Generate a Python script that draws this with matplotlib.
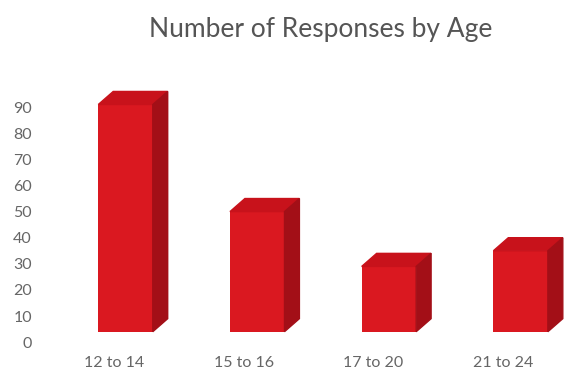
import numpy as np
import matplotlib
matplotlib.use('Agg')
import matplotlib.pyplot as plt
from matplotlib.patches import Polygon

plt.rcParams['font.family'] = ['Lato', 'DejaVu Sans']

# data
ages = ['12 to 14', '15 to 16', '17 to 20', '21 to 24']
responses = [91, 50, 29, 35]
yticks = np.arange(0, 100, 10)

# look of the fake 3d columns
floor = 4        # front face starts a little above the 0 label
shift = 0.09     # columns sit a bit right of their labels
spread = 1.015   # and a touch wider apart (perspective)
width = 0.42
dx, dy = 0.115, 5
front_col = '#da1820'
top_col = '#c8121b'
side_col = '#a30f17'

fig = plt.figure(figsize=(5.68, 3.73), dpi=100)
ax = fig.add_axes([36/568, 23/373, 1 - 36/568, (350 - 81)/373])

x = np.arange(len(ages))
for xi, v in zip(x * spread + shift, responses):
    l, r = xi - width/2, xi + width/2
    ax.bar(xi, v - floor, width, bottom=floor, color=front_col, zorder=3)
    ax.add_patch(Polygon([(l, v), (r, v), (r + dx, v + dy), (l + dx, v + dy)],
                         closed=True, color=top_col, zorder=3))
    ax.add_patch(Polygon([(r, floor), (r + dx, floor + dy), (r + dx, v + dy), (r, v)],
                         closed=True, color=side_col, zorder=3))

ax.set_xlim(-0.6, 3.5)
ax.set_ylim(-3, 100)
ax.set_xticks(x)
ax.set_xticklabels(ages)
ax.set_yticks(yticks)
for s in ax.spines.values():
    s.set_visible(False)
ax.tick_params(axis='both', length=0, colors='#666666', labelsize=11.5)
ax.tick_params(axis='x', pad=4)
ax.tick_params(axis='y', pad=3)

fig.text(0.565, 1 - 37/373, 'Number of Responses by Age', ha='center', va='baseline',
         fontsize=19, color='#555555')

fig.savefig('out.png', dpi=100)
